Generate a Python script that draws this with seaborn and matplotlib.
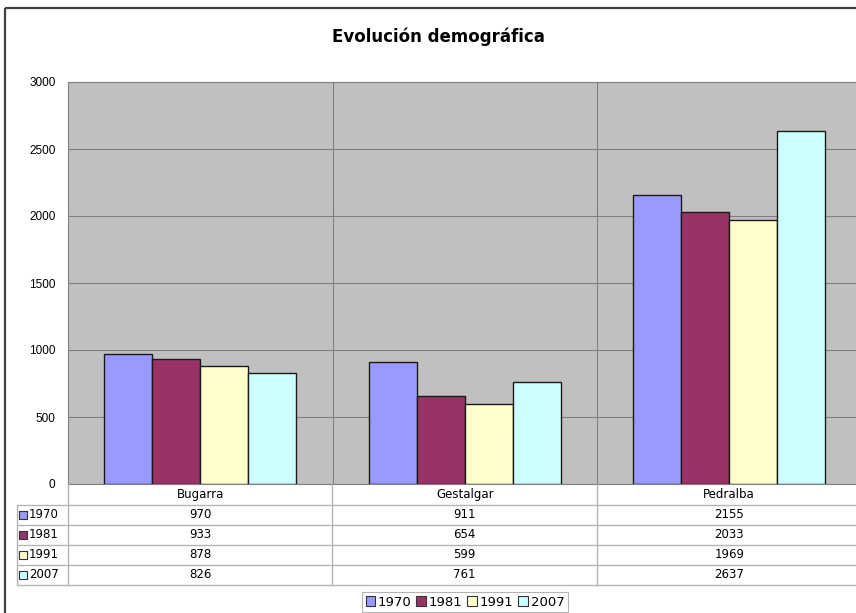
import pandas as pd
import matplotlib
matplotlib.use("Agg")
import matplotlib.pyplot as plt
from matplotlib.patches import Rectangle
import seaborn as sns

# ======================
# DATOS
# ======================
municipios = ["Bugarra", "Gestalgar", "Pedralba"]
anios = ["1970", "1981", "1991", "2007"]
pob_1970 = [970, 911, 2155]
pob_1981 = [933, 654, 2033]
pob_1991 = [878, 599, 1969]
pob_2007 = [826, 761, 2637]
colores = ["#9999FF", "#993366", "#FFFFCC", "#CCFFFF"]

series = [pob_1970, pob_1981, pob_1991, pob_2007]
df = pd.DataFrame({
    "municipio": municipios * len(anios),
    "anio": [a for a in anios for _ in municipios],
    "poblacion": [v for s in series for v in s],
})

sns.set_style("white")
plt.rcParams["font.family"] = ["DejaVu Sans"]
plt.rcParams["text.color"] = "black"
plt.rcParams["ytick.labelcolor"] = "black"

W, H = 856, 613
fig = plt.figure(figsize=(W / 100, H / 100), dpi=100)

# marco exterior del grafico
frame = fig.add_axes([0, 0, 1, 1], zorder=0)
frame.set_xlim(0, W)
frame.set_ylim(H, 0)
frame.axis("off")
frame.add_patch(Rectangle((5, 8), 900, 700, fill=False, ec="#404040", lw=1.6))

# ======================
# AREA DE TRAZADO
# ======================
left, right, top, bottom = 68, 861.5, 82, 484
ax = fig.add_axes([left / W, (H - bottom) / H, (right - left) / W, (bottom - top) / H], zorder=2)

sns.barplot(
    data=df, x="municipio", y="poblacion", hue="anio",
    order=municipios, hue_order=anios, palette=colores,
    width=0.727, gap=0, edgecolor="#1a1a1a", linewidth=1.0,
    saturation=1, ax=ax, zorder=3,
)

ax.set_facecolor("#C0C0C0")
ax.set_xlim(-0.5, 2.5)
ax.set_ylim(0, 3000)
ax.set_yticks(range(0, 3001, 500))
ax.set_xticks([0.5, 1.5])
ax.set_xticklabels([])
ax.tick_params(axis="x", length=0)
ax.tick_params(axis="y", length=4, color="#808080", width=0.8, pad=5, labelsize=8.5)
for t in ax.get_yticklabels():
    t.set_fontfamily(["Liberation Sans"])
ax.grid(True, axis="both", color="#808080", lw=0.8, zorder=0)
ax.set_axisbelow(True)
for s in ax.spines.values():
    s.set_color("#808080")
    s.set_linewidth(0.8)
ax.set_xlabel("")
ax.set_ylabel("")

handles, labels = ax.get_legend_handles_labels()
ax.get_legend().remove()

fig.text(438 / W, 1 - 37 / H, "Evolución demográfica", ha="center", va="center",
         fontsize=12, fontweight="bold")

# ======================
# TABLA DE DATOS
# ======================
tab = fig.add_axes([0, 0, 1, 1], zorder=3)
tab.set_xlim(0, W)
tab.set_ylim(H, 0)
tab.axis("off")

filas = [484, 505, 525, 545, 565, 585]
linea = "#B4B4B4"
fs = 8.5
centros = [ax.transData.transform((i, 0))[0] for i in range(len(municipios))]
limites = [ax.transData.transform((i + 0.5, 0))[0] for i in range(len(municipios) - 1)]

for y in filas[1:]:
    tab.plot([17, W + 10], [y, y], color=linea, lw=1)
tab.plot([17, 17], [filas[1], filas[-1]], color=linea, lw=1)
tab.plot([left, left], [filas[0], filas[-1]], color=linea, lw=1)
for xb in limites:
    tab.plot([xb, xb], [filas[0], filas[-1]], color=linea, lw=1)

for xc, nombre in zip(centros, municipios):
    tab.text(xc, (filas[0] + filas[1]) / 2, nombre, ha="center", va="center", fontsize=fs)

for j, (anio, col, s) in enumerate(zip(anios, colores, series)):
    yc = (filas[j + 1] + filas[j + 2]) / 2
    tab.add_patch(Rectangle((19, yc - 4), 8, 8, fc=col, ec="#333333", lw=0.8))
    tab.text(29, yc, anio, ha="left", va="center", fontsize=fs)
    for xc, v in zip(centros, s):
        tab.text(xc, yc, str(v), ha="center", va="center", fontsize=fs)

# ======================
# LEYENDA
# ======================
leg = fig.legend(
    handles, labels, loc="center", bbox_to_anchor=(465 / W, (H - 602) / H),
    ncol=4, fontsize=9.5, frameon=True, fancybox=False,
    handlelength=0.75, handleheight=0.75, handletextpad=0.2,
    columnspacing=0.35, borderpad=0.25, borderaxespad=0,
)
leg.get_frame().set_edgecolor("#A0A0A0")
leg.get_frame().set_linewidth(0.8)
for h in leg.legend_handles:
    h.set_edgecolor("#333333")
    h.set_linewidth(0.8)

fig.savefig("out.png", dpi=100)
